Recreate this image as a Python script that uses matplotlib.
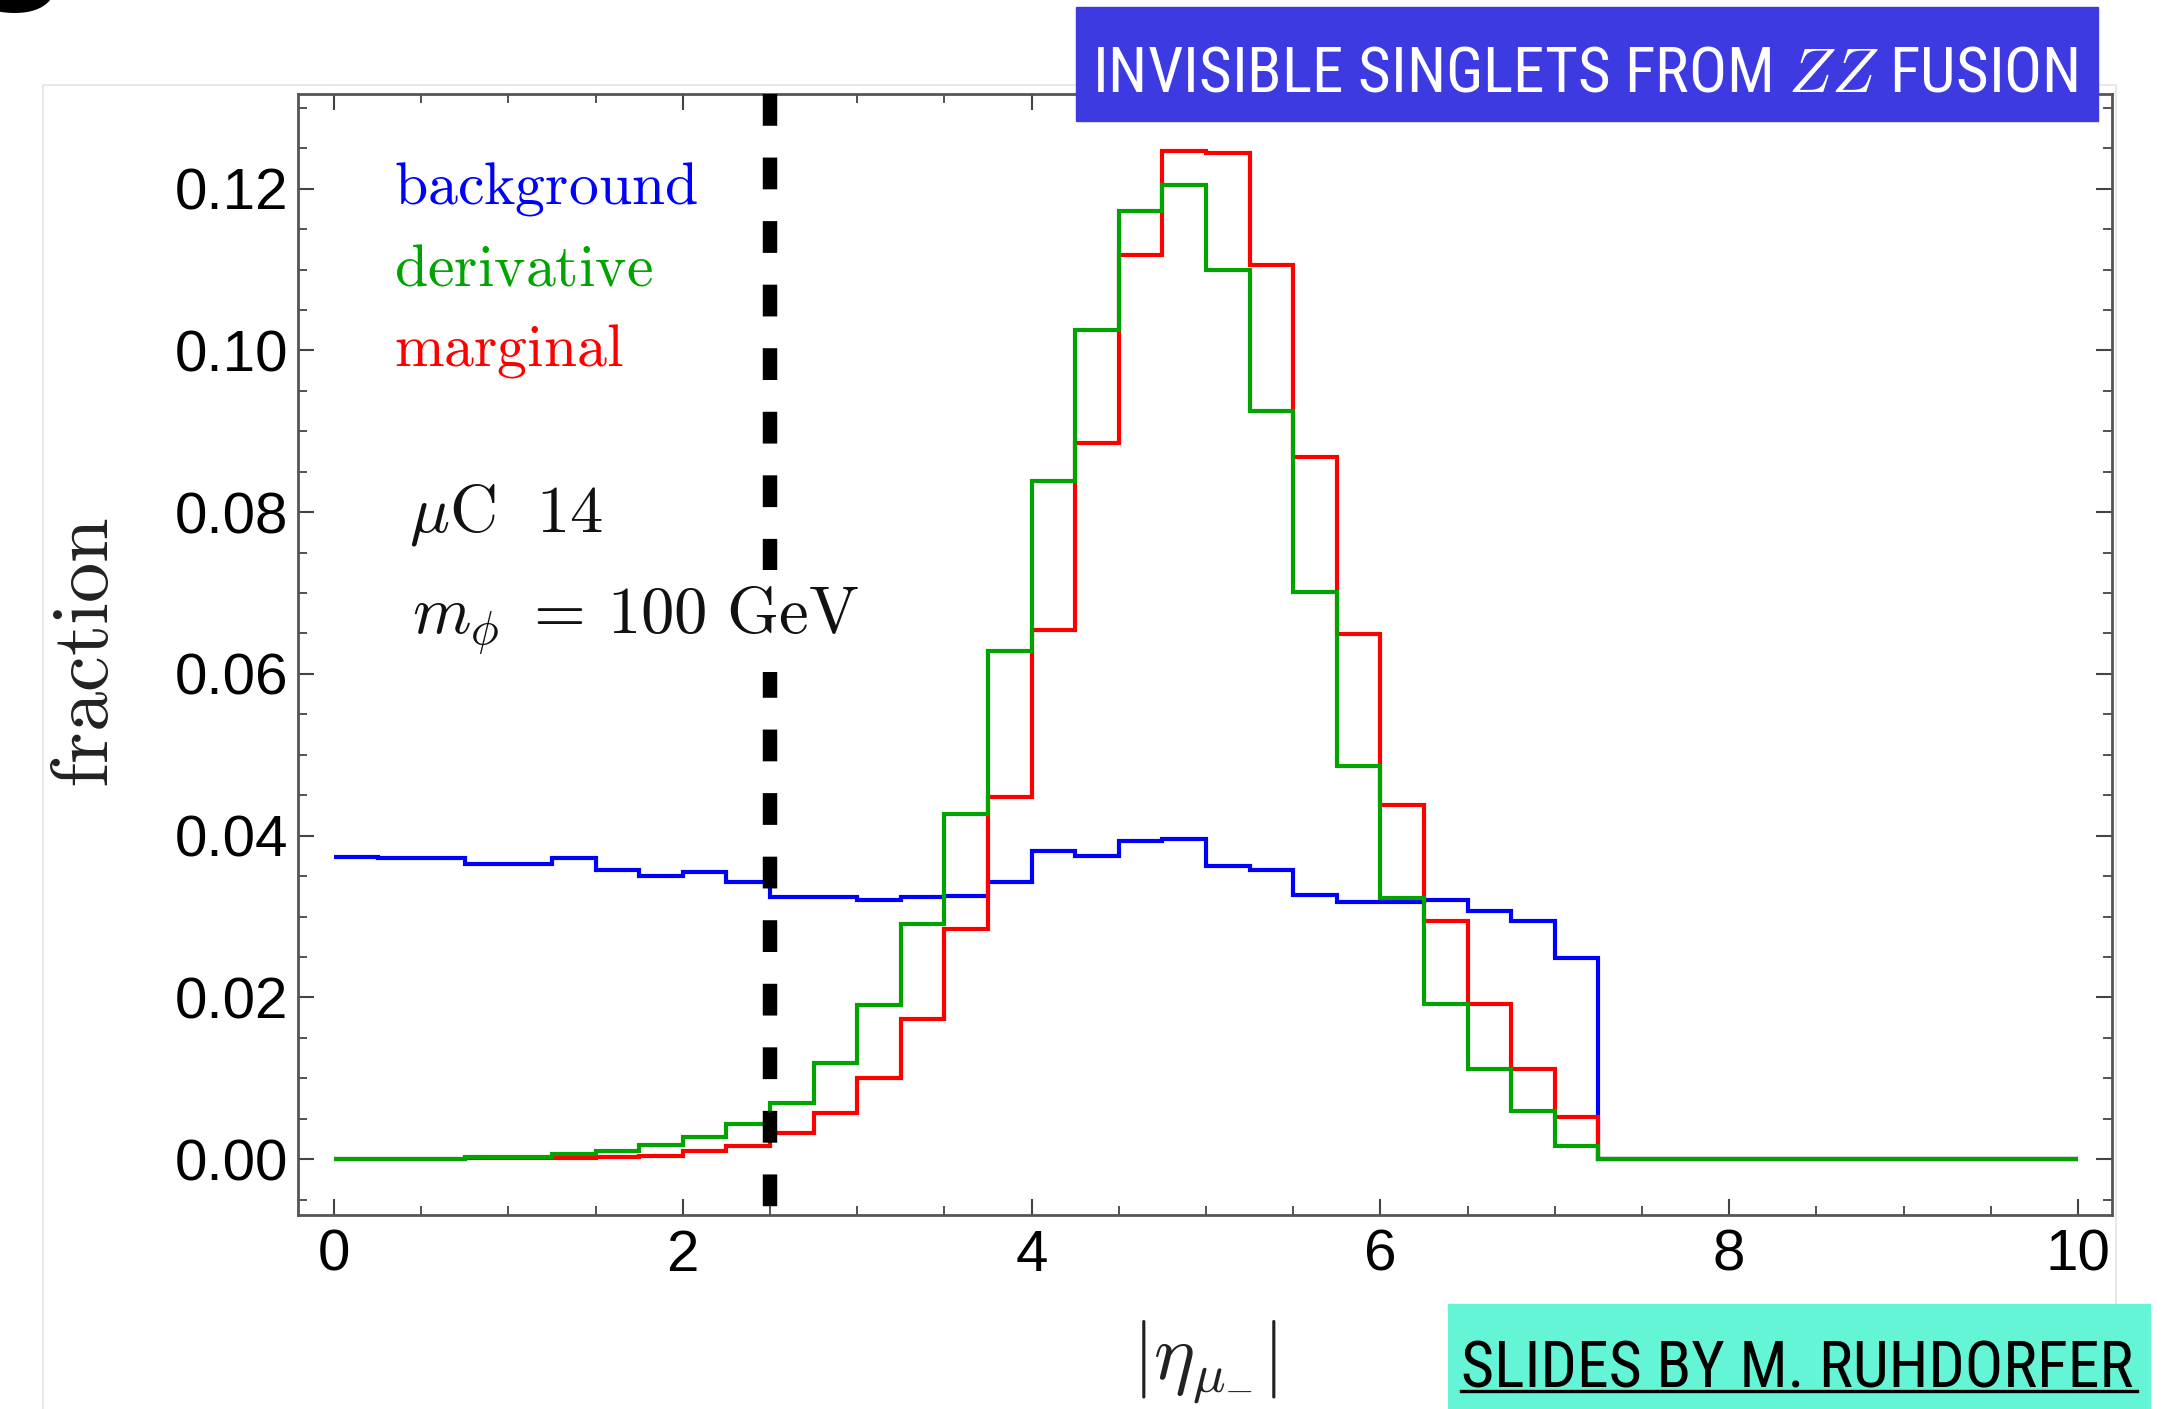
import os
import numpy as np
import matplotlib
matplotlib.use("Agg")
import matplotlib.pyplot as plt
import matplotlib.font_manager as fm
from matplotlib.patches import Rectangle
from matplotlib.lines import Line2D
from matplotlib.ticker import MultipleLocator, FormatStrFormatter

# ---------------- data ----------------
bin_edges = np.arange(0, 10.0001, 0.25)   # 40 bins of width 0.25
background = [0.0374, 0.0373, 0.0373, 0.0365, 0.0365, 0.0373, 0.0358, 0.0350, 0.0355, 0.0343,
              0.0324, 0.0324, 0.0320, 0.0324, 0.0325, 0.0343, 0.0381, 0.0375, 0.0393, 0.0396,
              0.0362, 0.0357, 0.0327, 0.0318, 0.0318, 0.0320, 0.0307, 0.0295, 0.0249, 0.0,
              0.0, 0.0, 0.0, 0.0, 0.0, 0.0, 0.0, 0.0, 0.0, 0.0]
derivative = [0.0, 0.0, 0.0, 0.0003, 0.0003, 0.0007, 0.0010, 0.0017, 0.0027, 0.0044,
              0.0070, 0.0119, 0.0191, 0.0291, 0.0427, 0.0628, 0.0838, 0.1025, 0.1172, 0.1204,
              0.1100, 0.0925, 0.0701, 0.0486, 0.0323, 0.0192, 0.0112, 0.0060, 0.0016, 0.0,
              0.0, 0.0, 0.0, 0.0, 0.0, 0.0, 0.0, 0.0, 0.0, 0.0]
marginal = [0.0, 0.0, 0.0, 0.0001, 0.0001, 0.0002, 0.0003, 0.0004, 0.0010, 0.0016,
            0.0033, 0.0057, 0.0100, 0.0173, 0.0284, 0.0448, 0.0654, 0.0886, 0.1118, 0.1247,
            0.1244, 0.1105, 0.0868, 0.0649, 0.0438, 0.0294, 0.0192, 0.0112, 0.0052, 0.0,
            0.0, 0.0, 0.0, 0.0, 0.0, 0.0, 0.0, 0.0, 0.0, 0.0]
eta_cut = 2.5
x_ticks = [0, 2, 4, 6, 8, 10]
y_ticks = [0.00, 0.02, 0.04, 0.06, 0.08, 0.10, 0.12]

series_names = ["background", "derivative", "marginal"]
series_colors = ["#0000FF", "#00A300", "#FF0000"]

# ---------------- style ----------------
plt.rcParams['mathtext.fontset'] = 'cm'
plt.rcParams['font.family'] = ['Liberation Sans', 'DejaVu Sans']

W, H = 2177, 1409
fig = plt.figure(figsize=(W / 100, H / 100), dpi=100)
fig.patch.set_facecolor('white')


def fx(px):
    return px / W


def fy(py):
    return 1 - py / H


# faint border of embedded picture
fig.add_artist(Rectangle((fx(43), fy(1420)), fx(2116) - fx(43), fy(85) - fy(1420),
                         transform=fig.transFigure, fill=False, edgecolor='#E4E4E4', lw=1.2))

ax = fig.add_axes([fx(298), fy(1215), fx(2112) - fx(298), fy(94) - fy(1215)])
ax.set_xlim(-0.206, 10.195)
ax.set_ylim(-0.0069, 0.1317)

ax.stairs(background, bin_edges, baseline=None, color=series_colors[0], lw=3.0, zorder=2)
ax.stairs(marginal, bin_edges, baseline=None, color=series_colors[2], lw=3.0, zorder=2.1)
ax.stairs(derivative, bin_edges, baseline=None, color=series_colors[1], lw=3.0, zorder=2.2)

y0, y1 = ax.get_ylim()
ax.plot([eta_cut, eta_cut], [y1, y0], color='black', lw=10.4,
        linestyle=(0, (2.2, 2.2)), dash_capstyle='butt', zorder=3, clip_on=True)

ax.xaxis.set_major_locator(MultipleLocator(2))
ax.xaxis.set_minor_locator(MultipleLocator(0.5))
ax.yaxis.set_major_locator(MultipleLocator(0.02))
ax.yaxis.set_minor_locator(MultipleLocator(0.005))
ax.set_xticks(x_ticks)
ax.set_yticks(y_ticks)
ax.yaxis.set_major_formatter(FormatStrFormatter('%.2f'))
ax.tick_params(which='both', direction='in', top=True, right=True, color='#444444')
ax.tick_params(which='major', length=11.5, width=1.5, labelsize=42)
ax.tick_params(which='minor', length=6.5, width=1.3)
ax.tick_params(axis='y', pad=7)
ax.tick_params(axis='x', pad=10)
for s in ax.spines.values():
    s.set_color('#555555')
    s.set_linewidth(2.0)

# legend-like labels
legend_baselines = [204, 286, 366]
for name, col, b in zip(series_names, series_colors, legend_baselines):
    fig.text(fx(394), fy(b), r'$\mathrm{' + name + '}$', color=col, fontsize=43,
             ha='left', va='baseline')

fig.text(fx(409), fy(531), r'$\mu\mathrm{C}\ \ 14$', fontsize=48, ha='left', va='baseline',
         color='#111111')
fig.text(fx(412), fy(634), r'$m_\phi\ = \,100\ \mathrm{GeV}$', fontsize=48, ha='left',
         va='baseline', color='#111111', zorder=5,
         bbox=dict(facecolor='white', edgecolor='none', boxstyle='square,pad=0.22'))

fig.text(fx(87), fy(652), r'$\mathrm{fraction}$', fontsize=58, rotation=90,
         ha='center', va='center', color='#222222')
fig.text(fx(1205), fy(1362), r'$|\eta_{\mu_{-}}|$', fontsize=56, ha='center', va='center',
         color='#222222')

# top-left fragment of slide title glyph (cut off at the top, as in the source slide)
fig.text(fx(20), fy(13), 'g', fontsize=95, fontweight='bold', ha='center', va='bottom',
         color='black', family='DejaVu Sans')


# condensed font for slide boxes
def pick_condensed():
    opts = [('Roboto Condensed', 'normal'), ('Liberation Sans Narrow', 'normal'),
            ('Open Sans Condensed', 'normal'), ('Oswald', 'normal'),
            ('Noto Sans', 'extra-condensed'), ('Noto Sans', 'condensed'),
            ('DejaVu Sans', 'condensed'), ('Open Sans', 'condensed'), ('Roboto', 'condensed')]
    for fam, st in opts:
        try:
            p = fm.findfont(fm.FontProperties(family=fam, stretch=st), fallback_to_default=False)
        except Exception:
            continue
        base = os.path.basename(p).lower()
        if any(k in base for k in ('condensed', 'narrow', 'oswald', 'cond')):
            return p
    return None


cpath = pick_condensed()
if cpath:
    cfp = fm.FontProperties(fname=cpath)
else:
    cfp = fm.FontProperties(family='Roboto')

# title box
fig.add_artist(Rectangle((fx(1076), fy(121)), fx(2098) - fx(1076), fy(7) - fy(121),
                         transform=fig.transFigure, color='#3D3AE1', zorder=10))
t1 = fig.text(fx(1585), fy(91), 'INVISIBLE SINGLETS FROM $ZZ$ FUSION', color='white',
              fontproperties=cfp, fontsize=50, ha='center', va='baseline', zorder=11)

# credit box
fig.add_artist(Rectangle((fx(1448), fy(1420)), fx(2150) - fx(1448), fy(1304) - fy(1420),
                         transform=fig.transFigure, color='#63F5D5', zorder=10))
t2 = fig.text(fx(1797), fy(1387), 'SLIDES BY M. RUHDORFER', color='black',
              fontproperties=cfp, fontsize=50, ha='center', va='baseline', zorder=11)

fig.canvas.draw()
r = fig.canvas.get_renderer()
for t, target in ((t1, 986), (t2, 674)):
    bb = t.get_window_extent(r)
    t.set_fontsize(t.get_fontsize() * target / bb.width)
fig.canvas.draw()

fig.add_artist(Line2D([fx(1461), fx(2137)], [fy(1391), fy(1391)], transform=fig.transFigure,
                      color='black', lw=2.4, zorder=12))

fig.savefig('out.png', dpi=100, facecolor='white')
